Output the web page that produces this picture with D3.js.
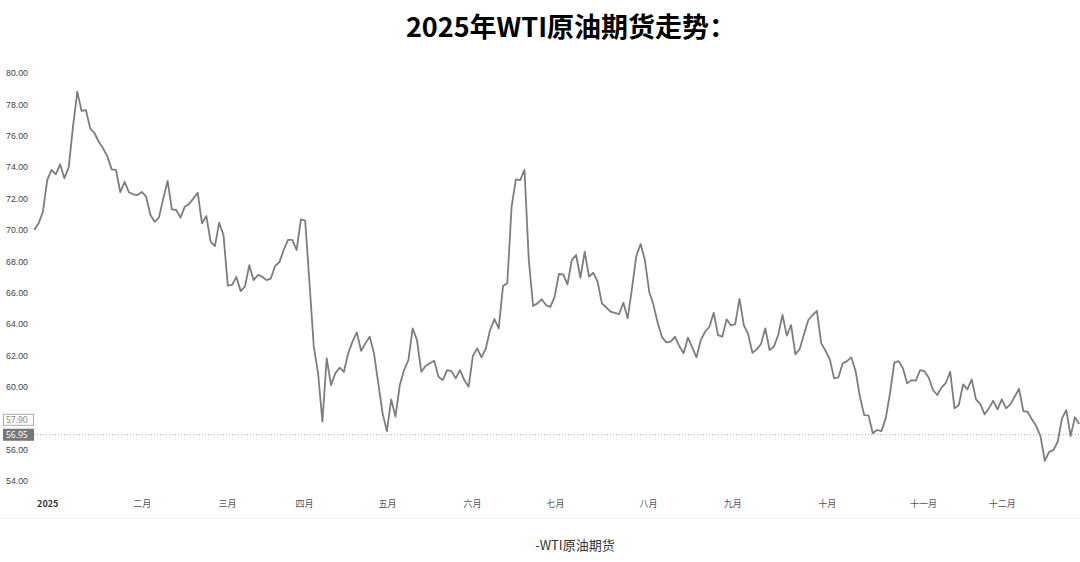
<!DOCTYPE html>
<html>
<head>
<meta charset="utf-8">
<script src="https://cdn.jsdelivr.net/npm/d3@7"></script>
<style>
  body { margin: 0; background: #fff; }
  svg { display: block; font-family: "Noto Sans", "Noto Sans CJK SC", sans-serif; }
</style>
</head>
<body>
<svg width="1080" height="562"></svg>
<script>
// WTI daily closes (trading-day index 0 = 27 Dec 2024)
var prices = [
  70.0, 70.42, 71.16, 73.18, 73.82, 73.54, 74.18, 73.29, 73.99, 76.58,
  78.81, 77.58, 77.64, 76.47, 76.16, 75.62, 75.2, 74.67, 73.86, 73.82,
  72.4, 73.07, 72.4, 72.27, 72.22, 72.42, 72.12, 70.95, 70.52, 70.8,
  72.01, 73.12, 71.31, 71.27, 70.78, 71.48, 71.65, 72.01, 72.37, 70.42,
  70.89, 69.25, 68.97, 70.46, 69.67, 66.45, 66.5, 67.0, 66.1, 66.4,
  67.75, 66.8, 67.13, 67.02, 66.8, 66.9, 67.7, 67.95, 68.72, 69.36,
  69.36, 68.72, 70.67, 70.59, 66.6, 62.56, 60.86, 57.78, 61.82, 60.11,
  60.86, 61.22, 60.96, 62.14, 62.88, 63.47, 62.3, 62.77, 63.19, 62.14,
  60.22, 58.31, 57.18, 59.2, 58.1, 60.11, 61.07, 61.71, 63.73, 62.98,
  60.96, 61.33, 61.5, 61.66, 60.64, 60.43, 61.07, 61.0, 60.54, 61.07,
  60.43, 60.0, 61.98, 62.45, 61.88, 62.45, 63.62, 64.32, 63.73, 66.42,
  66.6, 71.48, 73.22, 73.18, 73.82, 68.08, 65.15, 65.32, 65.58, 65.21,
  65.1, 65.74, 67.19, 67.17, 66.53, 68.08, 68.4, 66.95, 68.61, 67.02,
  67.27, 66.7, 65.32, 65.07, 64.79, 64.72, 64.64, 65.36, 64.37, 66.28,
  68.34, 69.1, 68.08, 66.06, 65.21, 64.05, 63.15, 62.84, 62.88, 63.19,
  62.6, 62.14, 63.13, 62.52, 61.88, 62.98, 63.51, 63.83, 64.72, 63.3,
  63.19, 64.3, 63.92, 64.0, 65.6, 63.94, 63.37, 62.17, 62.39, 62.73,
  63.73, 62.35, 62.56, 63.3, 64.58, 63.26, 63.94, 62.07, 62.41, 63.35,
  64.26, 64.58, 64.84, 62.79, 62.3, 61.75, 60.54, 60.6, 61.5, 61.64,
  61.88, 61.01, 59.37, 58.2, 58.18, 57.04, 57.25, 57.18, 57.99, 59.59,
  61.54, 61.64, 61.18, 60.22, 60.43, 60.39, 61.07, 61.0, 60.6, 59.8,
  59.48, 59.97, 60.26, 60.96, 58.63, 58.84, 60.16, 59.84, 60.48, 59.2,
  58.9, 58.25, 58.63, 59.11, 58.57, 59.2, 58.63, 58.88, 59.37, 59.88,
  58.46, 58.41, 57.93, 57.5, 56.86, 55.29, 55.86, 55.97, 56.5, 57.99,
  58.52, 56.86, 58.06, 57.63
];

// month labels and the trading-day index they sit on
var monthLabels = ["2025", "二月", "三月", "四月", "五月", "六月", "七月", "八月", "九月", "十月", "十一月", "十二月"];
var monthIdx = [3, 25, 44.8, 62.7, 82, 101.8, 121.1, 142.7, 162.3, 184.3, 206.7, 225];

var yTicks = [54, 56, 60, 62, 64, 66, 68, 70, 72, 74, 76, 78, 80];
var priceTags = [57.90, 56.95];

var title = "2025年WTI原油期货走势：";
var seriesName = "WTI原油期货";

var svg = d3.select("svg");

// Scales
var xscale = d3.scaleLinear().domain([0, prices.length - 1]).range([34.3, 1079.2]);
var yscale = d3.scaleLinear().domain([54, 80]).range([481, 73]);
var fmt = d3.format(".2f");

// Title
svg.append("text")
    .attr("x", 571)
    .attr("y", 37)
    .attr("text-anchor", "middle")
    .style("font-family", "'Noto Sans CJK SC', sans-serif")
    .style("font-weight", "bold")
    .style("font-size", "27px")
    .style("fill", "#000")
    .text(title);

// Left axis (labels only)
var yAxis = svg.append("g")
    .attr("transform", "translate(4,0)")
    .call(d3.axisRight(yscale).tickValues(yTicks).tickFormat(fmt).tickSize(0).tickPadding(2));
yAxis.select(".domain").remove();
yAxis.selectAll("text")
    .style("font-size", "8.8px")
    .style("fill", "#444");

// Bottom axis (month names)
var xAxis = svg.append("g")
    .attr("transform", "translate(0,501)")
    .call(d3.axisBottom(xscale).tickValues(monthIdx)
        .tickFormat(function(d, i) { return monthLabels[i]; })
        .tickSize(0).tickPadding(0));
xAxis.select(".domain").remove();
xAxis.selectAll("text")
    .style("font-family", "'Noto Sans CJK SC', sans-serif")
    .style("font-size", "9px")
    .style("font-weight", function(d, i) { return i == 0 ? "bold" : "normal"; })
    .style("fill", function(d, i) { return i == 0 ? "#333" : "#555"; });

// thin separator under the axis
svg.append("line")
    .attr("x1", 0).attr("x2", 1080)
    .attr("y1", 518.5).attr("y2", 518.5)
    .style("stroke", "#f0f0f0");

// dotted last-price line
svg.append("line")
    .attr("x1", 34).attr("x2", 1080)
    .attr("y1", yscale(priceTags[1])).attr("y2", yscale(priceTags[1]))
    .style("stroke", "#aaa")
    .style("stroke-width", 1)
    .style("stroke-dasharray", "1,2");

// Price line
var line = d3.line()
    .x(function(d, i) { return xscale(i); })
    .y(function(d) { return yscale(d); });

svg.append("path")
    .datum(prices)
    .attr("d", line)
    .style("fill", "none")
    .style("stroke", "#7d7d7d")
    .style("stroke-width", 1.8)
    .style("stroke-linejoin", "round");

// Price tags on the left
var tags = svg.selectAll(".tag")
    .data(priceTags)
    .enter().append("g")
    .attr("class", "tag")
    .attr("transform", function(d) { return "translate(3," + yscale(d) + ")"; });

tags.append("rect")
    .attr("x", 0.5)
    .attr("y", -5.5)
    .attr("width", 30)
    .attr("height", 11)
    .style("fill", function(d, i) { return i == 0 ? "#fff" : "#777"; })
    .style("stroke", function(d, i) { return i == 0 ? "#aaa" : "#777"; });

tags.append("text")
    .attr("x", 3)
    .attr("y", 3.2)
    .style("font-size", "8.5px")
    .style("fill", function(d, i) { return i == 0 ? "#888" : "#fff"; })
    .text(function(d) { return fmt(d); });

// Legend
svg.append("text")
    .attr("x", 575)
    .attr("y", 550)
    .attr("text-anchor", "middle")
    .style("font-family", "'Noto Sans CJK SC', sans-serif")
    .style("font-size", "13px")
    .style("fill", "#333")
    .text("-" + seriesName);
</script>
</body>
</html>
